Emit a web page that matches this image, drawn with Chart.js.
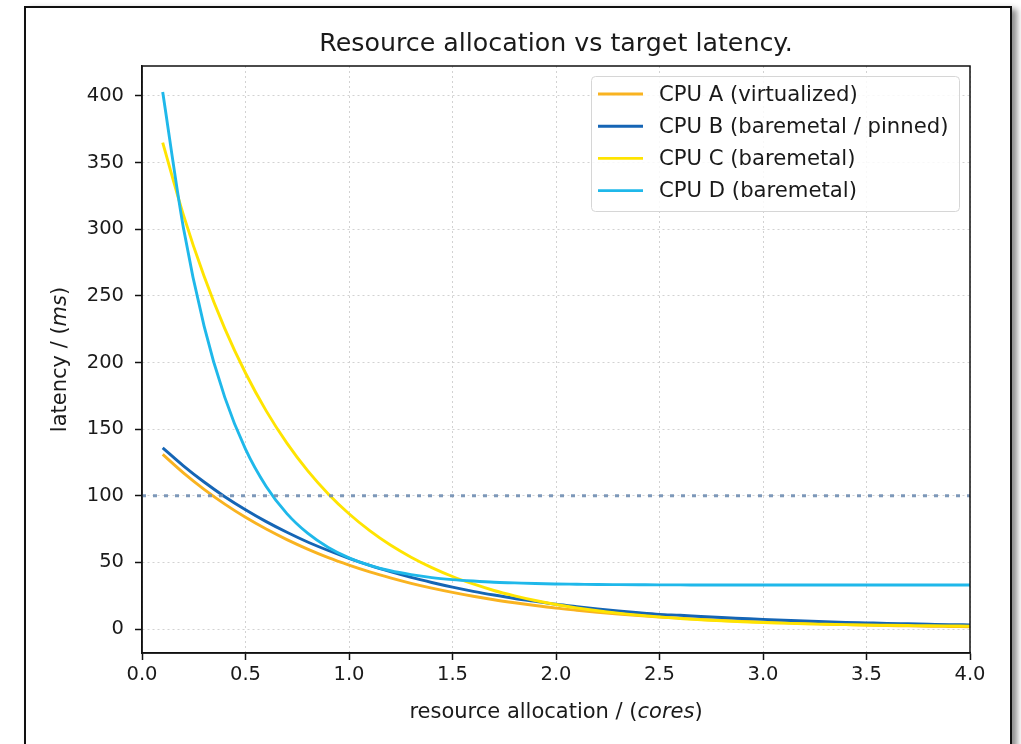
<!DOCTYPE html>
<html><head><meta charset="utf-8">
<script src="https://cdn.jsdelivr.net/npm/chart.js@4.4.0/dist/chart.umd.min.js"></script>
<style>
html,body{margin:0;padding:0;background:#fff;width:1021px;height:744px;overflow:hidden;}
#frame{position:absolute;left:24px;top:6px;width:984px;height:790px;border:2px solid #111;background:#fff;box-shadow:5px 3px 6px rgba(0,0,0,0.45);}
#wrap{position:absolute;left:0;top:0;width:1021px;height:744px;}
canvas{display:block;}
</style></head><body>
<div id="frame"></div>
<div id="wrap"><canvas id="c" width="1021" height="744"></canvas></div>
<script>
const chartTitle = 'Resource allocation vs target latency.';
const xValues = [0.1,0.2,0.3,0.4,0.5,0.6,0.7,0.8,0.9,1.0,1.1,1.2,1.3,1.4,1.5,1.6,1.7,1.8,1.9,2.0,
                 2.1,2.2,2.3,2.4,2.5,2.6,2.7,2.8,2.9,3.0,3.1,3.2,3.3,3.4,3.5,3.6,3.7,3.8,3.9,4.0];
const seriesLabels = ['CPU A (virtualized)','CPU B (baremetal / pinned)','CPU C (baremetal)','CPU D (baremetal)'];
const cpuA = [131,117.2,104.8,93.7,83.8,75.0,67.1,60.0,53.6,48.0,42.9,38.4,34.3,30.7,27.5,24.6,22.0,19.7,17.6,15.7,
              14.1,12.6,11.3,10.1,9.0,8.1,7.2,6.4,5.8,5.2,4.6,4.1,3.7,3.3,3.0,2.6,2.4,2.1,1.9,1.7];
const cpuB = [136,122.5,110.3,99.3,89.5,80.6,72.6,65.3,58.9,53.0,47.7,43.0,38.7,34.9,31.4,28.3,25.5,22.9,20.7,18.6,
              16.8,15.1,13.6,12.2,11.0,10.3,9.4,8.6,7.9,7.2,6.6,6.0,5.5,5.0,4.6,4.2,3.9,3.6,3.3,3.1];
const cpuC = [365,310.8,264.7,225.4,192.1,163.7,139.5,118.9,101.4,86.5,73.8,63.0,53.9,46.1,39.4,33.8,28.9,24.9,21.4,18.4,
              15.9,13.7,11.9,10.4,9.1,7.9,7.0,6.2,5.5,4.9,4.4,3.9,3.6,3.3,3.0,2.8,2.6,2.4,2.3,2.2];
const cpuD = [403,301.1,227.3,173.8,135.0,107.0,86.6,71.9,61.2,53.4,47.8,43.7,40.8,38.6,37.1,36.0,35.1,34.6,34.1,33.8,
              33.6,33.4,33.3,33.2,33.1,33.1,33.0,33.0,33.0,33.0,33.0,33.0,33.0,33.0,33.0,33.0,33.0,33.0,33.0,33.0];
const targetLatency = 100;
const xRange = [0, 4];
const yRange = [-18, 422.5];
const xTicks = [0,0.5,1.0,1.5,2.0,2.5,3.0,3.5,4.0];
const yTicks = [0,50,100,150,200,250,300,350,400];
const seriesColors = ['#F9B320','#1565B5','#FFE400','#1FB8EA'];
const targetColor = 'rgba(112,142,178,0.9)';

const FONT = '"DejaVu Sans", "Liberation Sans", sans-serif';
const TXT = '#1a1a1a';
const TICK_SIZE = 19.5, LABEL_SIZE = 21, TITLE_SIZE = 25.3, LEGEND_SIZE = 21.2;

const allSeries = [cpuA, cpuB, cpuC, cpuD];
const datasets = allSeries.map((s, i) => ({
  label: seriesLabels[i],
  data: xValues.map((x, j) => ({x: x, y: s[j]})),
  borderColor: seriesColors[i],
  backgroundColor: seriesColors[i],
  borderWidth: 2.9,
  pointRadius: 0,
  fill: false,
  cubicInterpolationMode: 'monotone',
  order: 4 - i
}));
datasets.push({
  label: 'target',
  data: xRange.map(x => ({x: x, y: targetLatency})),
  borderColor: targetColor,
  borderWidth: 3,
  borderDash: [4, 7],
  pointRadius: 0,
  fill: false,
  order: 0
});

function mixedText(ctx, parts, size) {
  let w = 0;
  parts.forEach(p => { ctx.font = (p.italic ? 'italic ' : '') + size + 'px ' + FONT; p.w = ctx.measureText(p.t).width; w += p.w; });
  return w;
}
function drawMixed(ctx, parts, size, x, y) {
  let cx = x;
  parts.forEach(p => { ctx.font = (p.italic ? 'italic ' : '') + size + 'px ' + FONT; ctx.fillText(p.t, cx, y); cx += p.w; });
}

const decor = {
  id: 'decor',
  afterDraw(chart) {
    const ctx = chart.ctx, a = chart.chartArea;
    ctx.save();
    ctx.strokeStyle = '#111'; ctx.lineWidth = 1.5;
    ctx.strokeRect(a.left, a.top, a.right - a.left, a.bottom - a.top);
    ctx.fillStyle = TXT; ctx.textAlign = 'center'; ctx.textBaseline = 'alphabetic';
    ctx.font = TITLE_SIZE + 'px ' + FONT;
    ctx.fillText(chartTitle, (a.left + a.right) / 2, 51);
    ctx.textAlign = 'left';
    const xl = [{t:'resource allocation / ('},{t:'cores',italic:true},{t:')'}];
    const xw = mixedText(ctx, xl, LABEL_SIZE);
    drawMixed(ctx, xl, LABEL_SIZE, (a.left + a.right) / 2 - xw / 2, 718);
    const yl = [{t:'latency / ('},{t:'ms',italic:true},{t:')'}];
    const yw = mixedText(ctx, yl, LABEL_SIZE);
    ctx.save();
    ctx.translate(66, (a.top + a.bottom) / 2);
    ctx.rotate(-Math.PI / 2);
    drawMixed(ctx, yl, LABEL_SIZE, -yw / 2, 0);
    ctx.restore();
    const lx = 591.5, ly = 76.5, lw = 368, lh = 135, r = 4;
    ctx.beginPath();
    ctx.moveTo(lx + r, ly); ctx.lineTo(lx + lw - r, ly); ctx.arcTo(lx + lw, ly, lx + lw, ly + r, r);
    ctx.lineTo(lx + lw, ly + lh - r); ctx.arcTo(lx + lw, ly + lh, lx + lw - r, ly + lh, r);
    ctx.lineTo(lx + r, ly + lh); ctx.arcTo(lx, ly + lh, lx, ly + lh - r, r);
    ctx.lineTo(lx, ly + r); ctx.arcTo(lx, ly, lx + r, ly, r);
    ctx.closePath();
    ctx.fillStyle = 'rgba(255,255,255,0.85)'; ctx.fill();
    ctx.strokeStyle = '#d6d6d6'; ctx.lineWidth = 1; ctx.stroke();
    ctx.textBaseline = 'middle'; ctx.textAlign = 'left';
    ctx.font = LEGEND_SIZE + 'px ' + FONT;
    seriesLabels.forEach((lab, i) => {
      const y = 94 + i * 32.2;
      ctx.strokeStyle = seriesColors[i]; ctx.lineWidth = 2.9;
      ctx.beginPath(); ctx.moveTo(598, y); ctx.lineTo(643, y); ctx.stroke();
      ctx.fillStyle = TXT;
      ctx.fillText(lab, 659, y + 1);
    });
    ctx.restore();
  }
};

new Chart(document.getElementById('c'), {
  type: 'line',
  data: { datasets: datasets },
  options: {
    responsive: false,
    animation: false,
    devicePixelRatio: 1,
    layout: { padding: { top: 66, right: 51, bottom: 0, left: 0 } },
    plugins: { legend: { display: false }, title: { display: false }, tooltip: { enabled: false } },
    scales: {
      x: {
        type: 'linear', min: xRange[0], max: xRange[1],
        afterBuildTicks: s => { s.ticks = xTicks.map(v => ({value: v})); },
        afterFit: s => { s.height = 91; },
        ticks: { callback: v => Number(v).toFixed(1), color: TXT, font: { family: FONT, size: TICK_SIZE }, padding: 3, maxRotation: 0, autoSkip: false },
        grid: { color: '#d2d2d2', lineWidth: 1, drawTicks: true, tickLength: 7, tickColor: '#111', tickWidth: 1.5, tickBorderDash: [] },
        border: { display: true, color: '#111', width: 1.5, dash: [2, 3] }
      },
      y: {
        type: 'linear', min: yRange[0], max: yRange[1],
        afterBuildTicks: s => { s.ticks = yTicks.map(v => ({value: v})); },
        afterFit: s => { s.width = 142; },
        ticks: { callback: v => String(v), color: TXT, font: { family: FONT, size: TICK_SIZE }, padding: 11, autoSkip: false },
        grid: { color: '#d2d2d2', lineWidth: 1, drawTicks: true, tickLength: 7, tickColor: '#111', tickWidth: 1.5, tickBorderDash: [] },
        border: { display: true, color: '#111', width: 1.5, dash: [2, 3] }
      }
    }
  },
  plugins: [decor]
});
</script>
</body></html>
